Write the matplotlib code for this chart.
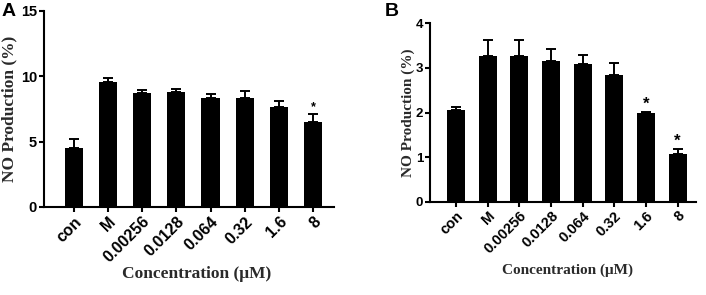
import matplotlib
matplotlib.use('Agg')
import matplotlib.pyplot as plt
import numpy as np

# data
categories = ['con', 'M', '0.00256', '0.0128', '0.064', '0.32', '1.6', '8']

a_values = [4.52, 9.53, 8.74, 8.79, 8.38, 8.38, 7.64, 6.54]
a_errors = [0.70, 0.38, 0.20, 0.21, 0.23, 0.49, 0.49, 0.59]
a_stars = [7]

b_values = [2.06, 3.27, 3.27, 3.16, 3.09, 2.84, 2.00, 1.08]
b_errors = [0.06, 0.36, 0.36, 0.25, 0.19, 0.27, 0.02, 0.11]
b_stars = [6, 7]

sans = 'Liberation Sans'
serif = 'Liberation Serif'

fig = plt.figure(figsize=(7.06, 2.95), dpi=100)
W, H = 706, 295


def px_axes(left, top, right, bottom):
    return fig.add_axes([left / W, 1 - bottom / H, (right - left) / W, (bottom - top) / H])


def draw_panel(ax, values, errors, stars, ymax, ystep, xlim, width, sizes, star_size, star_off,
               ylab_x, xlab_pos):
    tick_x, tick_y, lab = sizes
    x = np.arange(len(categories))
    ax.bar(x, values, width=width, color='black', zorder=2)
    ax.errorbar(x, values, yerr=[np.zeros(len(errors)), errors], fmt='none',
                ecolor='black', elinewidth=1.4, capsize=3.5, capthick=1.4, zorder=3)
    for i in stars:
        ax.text(x[i], values[i] + errors[i] + star_off, '*', ha='center', va='bottom',
                fontsize=star_size, fontweight='bold', family=sans)
    ax.set_xlim(*xlim)
    ax.set_ylim(0, ymax)
    ax.set_yticks(np.arange(0, ymax + 0.001, ystep))
    ax.set_xticks(x)
    ax.set_xticklabels(categories, rotation=45, ha='right', rotation_mode='anchor',
                       fontsize=tick_x, fontweight='bold', family=sans)
    for t in ax.get_yticklabels():
        t.set_fontsize(tick_y)
        t.set_fontweight('bold')
        t.set_family(sans)
    for s in ['top', 'right']:
        ax.spines[s].set_visible(False)
    for s in ['left', 'bottom']:
        ax.spines[s].set_linewidth(1.5)
    ax.tick_params(axis='both', direction='out', length=3.5, width=1.5, pad=1.5)
    ax.set_ylabel('NO Production (%)', fontsize=lab, fontweight='bold', family=serif,
                  color='#2a2a2a')
    ax.set_xlabel('Concentration (\u03bcM)', fontsize=lab, fontweight='bold', family=serif,
                  color='#2a2a2a')
    ax.yaxis.set_label_coords(ylab_x / W, 0.5)
    ax.yaxis.label.set_transform(
        matplotlib.transforms.blended_transform_factory(fig.transFigure, ax.transAxes))
    ax.xaxis.set_label_coords(xlab_pos[0] / W, 1 - xlab_pos[1] / H, transform=fig.transFigure)


ax_a = px_axes(44, 11, 334, 207)
draw_panel(ax_a, a_values, a_errors, a_stars, 15, 5, (-0.87, 7.61), 0.53,
           (11.5, 10.5, 12.5), 9, 0.05, 17, (197, 266))

ax_b = px_axes(430, 23, 696, 202)
draw_panel(ax_b, b_values, b_errors, b_stars, 4, 1, (-0.82, 7.58), 0.57,
           (10.5, 9.5, 11), 12, 0.0, 415, (568, 264))

fig.text(2 / W, 1 - 12 / H, 'A', fontsize=14, fontweight='bold', family=sans, va='center')
fig.text(385 / W, 1 - 12 / H, 'B', fontsize=14, fontweight='bold', family=sans, va='center')

fig.savefig('out.png', dpi=100)
